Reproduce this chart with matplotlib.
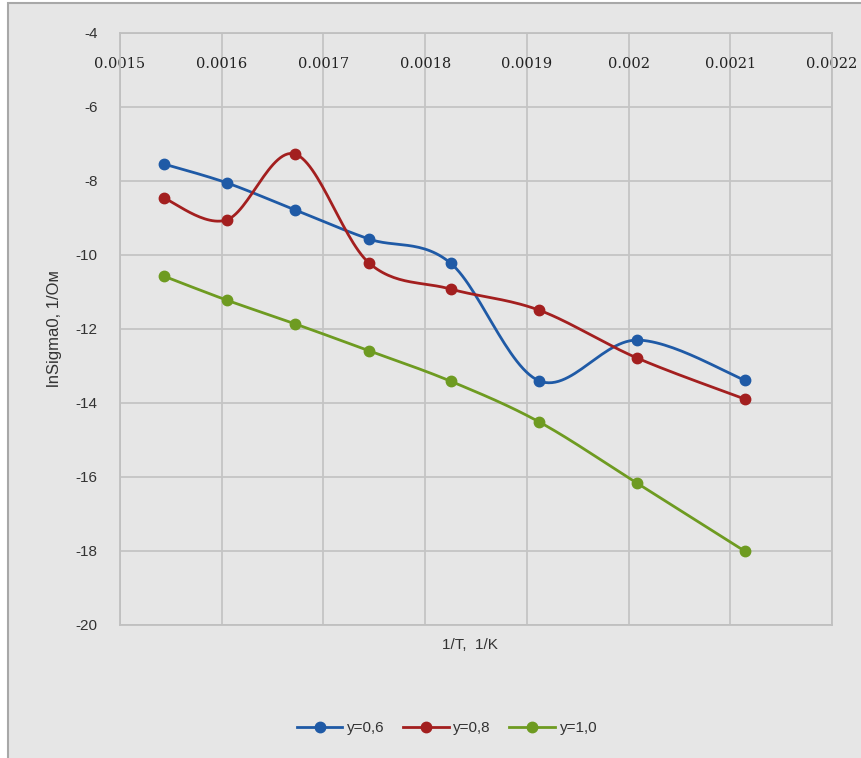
import numpy as np
import matplotlib
matplotlib.use("Agg")
import matplotlib.pyplot as plt
from matplotlib.patches import Rectangle

inv_T = [0.001543, 0.001605, 0.001672, 0.001745, 0.001825, 0.001912, 0.002008, 0.002114]
y06 = [-7.54, -8.05, -8.78, -9.57, -10.22, -13.40, -12.30, -13.38]
y08 = [-8.46, -9.05, -7.27, -10.22, -10.92, -11.49, -12.78, -13.89]
y10 = [-10.57, -11.22, -11.86, -12.59, -13.41, -14.51, -16.16, -18.00]
series_labels = ["y=0,6", "y=0,8", "y=1,0"]
colors = ["#1F5AA6", "#A31F1F", "#6E9B21"]
x_ticks = [0.0015, 0.0016, 0.0017, 0.0018, 0.0019, 0.002, 0.0021, 0.0022]
x_ticklabels = ["0.0015", "0.0016", "0.0017", "0.0018", "0.0019", "0.002", "0.0021", "0.0022"]
y_ticks = [-20, -18, -16, -14, -12, -10, -8, -6, -4]


def smooth(xs, ys, n=30):
    # Excel-like smoothed line (Catmull-Rom Bezier), computed in normalized space
    xs = np.asarray(xs, float); ys = np.asarray(ys, float)
    sx = (xs - 0.0015) / 0.0007 * 712.0
    sy = ys / 16.0 * 592.0
    P = np.column_stack([sx, sy])
    out = []
    m = len(P)
    for i in range(m - 1):
        p0 = P[i - 1] if i > 0 else P[i]
        p1 = P[i]; p2 = P[i + 1]
        p3 = P[i + 2] if i + 2 < m else P[i + 1]
        c1 = p1 + (p2 - p0) / 6.0
        c2 = p2 - (p3 - p1) / 6.0
        t = np.linspace(0, 1, n)[:, None]
        seg = (1 - t) ** 3 * p1 + 3 * (1 - t) ** 2 * t * c1 + 3 * (1 - t) * t ** 2 * c2 + t ** 3 * p2
        out.append(seg if i == 0 else seg[1:])
    S = np.vstack(out)
    return S[:, 0] / 712.0 * 0.0007 + 0.0015, S[:, 1] / 592.0 * 16.0


W, H = 862, 758
fig = plt.figure(figsize=(W / 100, H / 100), dpi=100, facecolor="white")
bg = fig.add_axes([0, 0, 1, 1], zorder=-10)
bg.set_xlim(0, W); bg.set_ylim(H, 0); bg.axis("off")
bg.add_patch(Rectangle((8, 3), W + 20, H + 20, facecolor="#e6e6e6", edgecolor="#a8a8a8", linewidth=1.5))

ax = fig.add_axes([120 / W, 1 - 625 / H, 712 / W, 592 / H])
ax.set_facecolor("#e6e6e6")
ax.set_xlim(0.0015, 0.0022)
ax.set_ylim(-20, -4)
ax.set_xticks(x_ticks)
ax.set_xticklabels(x_ticklabels, family="DejaVu Serif", fontsize=10.5, color="#222222")
ax.set_yticks(y_ticks)
ax.set_yticklabels([str(v) for v in y_ticks], family="Liberation Sans", fontsize=11, color="#333333")
ax.tick_params(axis="x", top=True, labeltop=True, bottom=False, labelbottom=False, length=0, pad=-27)
ax.tick_params(axis="y", length=0, pad=16)
ax.grid(True, color="#c4c4c4", linewidth=1.3)
ax.set_axisbelow(True)
for s in ax.spines.values():
    s.set_color("#c0c0c0")
    s.set_linewidth(1.3)

for ys, lab, c in zip([y06, y08, y10], series_labels, colors):
    sx, sy = smooth(inv_T, ys)
    ax.plot(sx, sy, color=c, linewidth=2.0, zorder=3)
    ax.plot(inv_T, ys, linestyle="none", marker="o", markersize=7.5, color=c, zorder=4)
    ax.plot([], [], color=c, linewidth=2.0, marker="o", markersize=7.5, label=lab)

ax.set_ylabel("lnSigma0, 1/Ом", family="Liberation Sans", fontsize=12, color="#333333")
ax.yaxis.set_label_coords(-58 / 712, 0.5)
fig.text(470 / W, 1 - 645 / H, "1/T,  1/K", family="Liberation Sans", fontsize=11,
         color="#333333", ha="center", va="center")

leg = fig.legend(loc="center", bbox_to_anchor=(447 / W, 1 - 728 / H), ncol=3, frameon=False,
                 prop={"family": "Liberation Sans", "size": 11}, handlelength=3.0,
                 columnspacing=1.2, handletextpad=0.3)
for t in leg.get_texts():
    t.set_color("#333333")

fig.savefig("out.png", dpi=100, facecolor=fig.get_facecolor())
